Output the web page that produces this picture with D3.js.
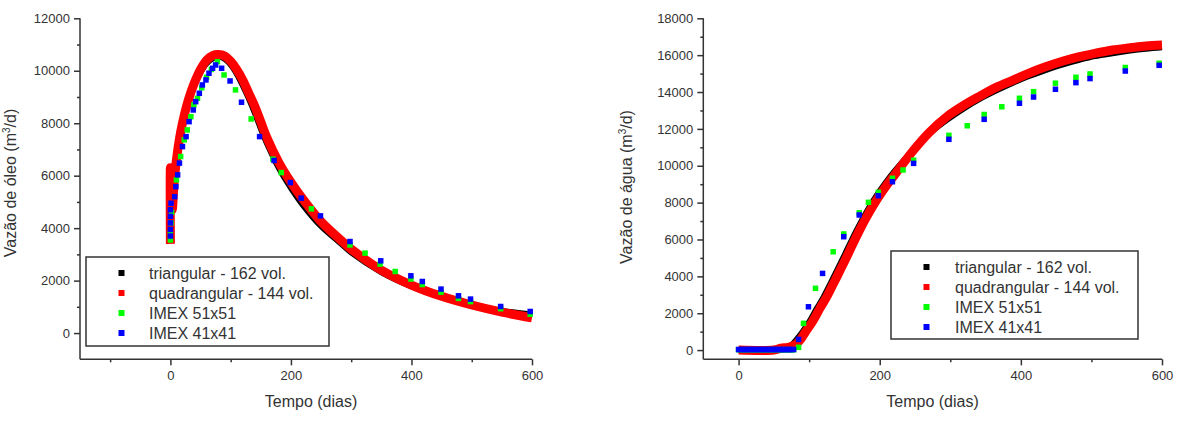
<!DOCTYPE html>
<html>
<head>
<meta charset="utf-8">
<script src="https://cdn.jsdelivr.net/npm/d3@7"></script>
<style>
  html, body { margin: 0; padding: 0; background: #fff; }
  svg { display: block; font-family: "Liberation Sans", Arial, sans-serif; }
</style>
</head>
<body>
<svg id="chart" width="1183" height="423"></svg>
<script>
// ---------------- DATA ----------------
const seriesNames = ["triangular - 162 vol.", "quadrangular - 144 vol.", "IMEX 51x51", "IMEX 41x41"];
const seriesColors = ["#000000", "#ff0000", "#00ff00", "#0000ff"];

// Left panel: oil rate (m3/d) vs time (days)
const oilTriangular = [[0,3450],[0,4900],[3,4600],[6,5550],[10,6450],[15,7250],[20,7850],[30,8800],[40,9450],[50,9900],[60,10250],[70,10450],[80,10520],[90,10430],[100,10200],[110,9850],[120,9400],[130,8900],[140,8350],[150,7750],[160,7200],[180,6250],[200,5500],[220,4850],[250,4050],[280,3450],[300,3050],[350,2300],[400,1760],[450,1350],[500,1060],[550,860],[600,730]];
const oilQuadrangular = [[0,3400],[0,6300],[3,4700],[6,5700],[10,6600],[15,7400],[20,8000],[30,8900],[40,9550],[50,10050],[60,10400],[70,10580],[80,10620],[90,10560],[100,10360],[110,10050],[120,9650],[130,9150],[140,8650],[150,8050],[160,7450],[180,6500],[200,5750],[220,5100],[250,4250],[280,3600],[300,3200],[350,2400],[400,1830],[450,1400],[500,1070],[550,800],[600,580]];
const oilImex51 = [[0,3550],[0,3800],[1,4200],[2,4600],[10,5840],[17,6730],[23,7365],[28,7745],[34,8250],[39,8700],[45,8950],[52,9350],[60,9750],[68,10050],[78,10347],[89,9840],[108,9270],[134,8163],[170,6630],[184,6118],[234,4735],[298,3360],[323,3048],[348,2630],[373,2347],[399,2060],[418,1850],[449,1560],[478,1320],[498,1200],[548,930],[597,720]];
const oilImex41 = [[0,3700],[0,3950],[0,4200],[0,4450],[0,4700],[1,4950],[7,5200],[9,5580],[12,6030],[15,6480],[20,7110],[26,7490],[31,8060],[38,8506],[42,8823],[48,9142],[53,9460],[59,9650],[64,9905],[70,10095],[75,10220],[85,10095],[99,9611],[118,8800],[148,7490],[172,6580],[199,5737],[217,5143],[249,4468],[298,3490],[349,2754],[399,2183],[418,1966],[449,1676],[478,1420],[498,1295],[548,1013],[597,823]];

// Right panel: water rate (m3/d) vs time (days)
const waterTriangular = [[0,0],[55,0],[65,100],[75,300],[83,650],[90,1000],[100,1570],[110,2250],[120,2900],[130,3650],[140,4420],[150,5200],[160,6000],[170,6750],[180,7450],[190,8100],[200,8680],[220,9700],[247,10850],[270,11700],[295,12450],[320,13100],[342,13600],[365,14050],[389,14480],[410,14820],[436,15180],[460,15480],[483,15720],[505,15920],[530,16080],[555,16220],[577,16320],[600,16400]];
const waterQuadrangular = [[0,0],[50,0],[60,100],[70,150],[80,280],[87,540],[95,1000],[106,1630],[115,2250],[125,2900],[135,3650],[144,4340],[155,5200],[163,5850],[172,6550],[181,7200],[190,7800],[200,8400],[210,8950],[220,9450],[247,10800],[270,11800],[295,12660],[320,13300],[342,13780],[365,14250],[389,14650],[410,15000],[436,15380],[460,15680],[483,15920],[505,16100],[530,16280],[555,16400],[577,16500],[600,16550]];
const waterImex51 = [[0,20],[3,20],[6,20],[9,20],[12,20],[15,20],[18,20],[21,20],[24,20],[27,20],[30,20],[33,20],[36,20],[39,20],[42,20],[45,20],[48,20],[51,20],[54,20],[57,20],[60,20],[63,20],[66,20],[69,20],[72,20],[75,20],[78,20],[85,150],[92,1450],[109,3350],[134,5335],[149,6300],[171,7450],[184,8015],[198,8560],[218,9320],[233,9770],[248,10300],[298,11650],[324,12170],[348,12780],[373,13200],[398,13660],[418,14020],[449,14480],[478,14800],[498,14980],[548,15330],[596,15560]];
const waterImex41 = [[0,30],[3,30],[6,30],[9,30],[12,30],[15,30],[18,30],[21,30],[24,30],[27,30],[30,30],[33,30],[36,30],[39,30],[42,30],[45,30],[48,30],[51,30],[54,30],[57,30],[60,30],[63,30],[66,30],[69,30],[72,30],[75,30],[78,30],[85,580],[99,2350],[119,4160],[149,6150],[171,7330],[198,8375],[218,9135],[248,10130],[298,11435],[348,12520],[398,13390],[418,13730],[449,14150],[478,14510],[498,14730],[548,15140],[596,15450]];

// Tick values
const oilXTicks = [0, 200, 400, 600];
const oilXMinor = [-100, 100, 300, 500];
const oilYTicks = [0, 2000, 4000, 6000, 8000, 10000, 12000];
const oilYMinor = [1000, 3000, 5000, 7000, 9000, 11000];
const waterXTicks = [0, 200, 400, 600];
const waterXMinor = [100, 300, 500];
const waterYTicks = [0, 2000, 4000, 6000, 8000, 10000, 12000, 14000, 16000, 18000];
const waterYMinor = [1000, 3000, 5000, 7000, 9000, 11000, 13000, 15000, 17000];

const xTitle = "Tempo (dias)";
const oilYTitle = ["Vazão de óleo (m", "3", "/d)"];
const waterYTitle = ["Vazão de água (m", "3", "/d)"];

// ---------------- DRAWING ----------------
const svg = d3.select("#chart");
const fmt = d3.format("d");
const axisColor = "#333";

function drawPanel(p) {
  const x = d3.scaleLinear().domain(p.xDomain).range(p.xRange);
  const y = d3.scaleLinear().domain(p.yDomain).range(p.yRange);
  const g = svg.append("g");

  const line = d3.line().x(d => x(d[0])).y(d => y(d[1])).curve(d3.curveCatmullRom.alpha(0.5));

  // curves
  g.append("path").datum(p.tri).attr("d", line)
    .attr("fill", "none").attr("stroke", seriesColors[0]).attr("stroke-width", 5).attr("stroke-linejoin", "round");
  g.append("path").datum(p.quad).attr("d", line)
    .attr("fill", "none").attr("stroke", seriesColors[1]).attr("stroke-width", 9).attr("stroke-linejoin", "round");

  // points
  const ms = 5.5;
  [[p.imex51, seriesColors[2]], [p.imex41, seriesColors[3]]].forEach(([data, col]) => {
    g.append("g").selectAll("rect").data(data).join("rect")
      .attr("x", d => x(d[0]) - ms / 2).attr("y", d => y(d[1]) - ms / 2)
      .attr("width", ms).attr("height", ms).attr("fill", col);
  });

  // axes
  const x0 = p.xRange[0], y0 = p.yRange[0];
  const ax = g.append("g").attr("transform", `translate(0,${y0})`)
    .call(d3.axisBottom(x).tickValues(p.xTicks).tickSize(6).tickPadding(5).tickFormat(fmt));
  const axm = g.append("g").attr("transform", `translate(0,${y0})`)
    .call(d3.axisBottom(x).tickValues(p.xMinor).tickSize(3).tickFormat(""));
  const ay = g.append("g").attr("transform", `translate(${x0},0)`)
    .call(d3.axisLeft(y).tickValues(p.yTicks).tickSize(6).tickPadding(4).tickFormat(fmt));
  const aym = g.append("g").attr("transform", `translate(${x0},0)`)
    .call(d3.axisLeft(y).tickValues(p.yMinor).tickSize(3).tickFormat(""));
  [axm, aym].forEach(a => a.select(".domain").remove());
  [ax, ay].forEach(a => a.select(".domain").attr("d", null));
  [ax, axm, ay, aym].forEach(a => {
    a.selectAll("line").attr("stroke", axisColor).attr("stroke-width", 1.5);
    a.selectAll("text").attr("fill", "#333").style("font-size", "13px").style("font-family", "'Liberation Sans', Arial, sans-serif");
  });
  // L-shaped axis lines
  g.append("line").attr("x1", x0).attr("x2", x0).attr("y1", p.yRange[1]).attr("y2", y0)
    .attr("stroke", axisColor).attr("stroke-width", 1.5);
  g.append("line").attr("x1", x0).attr("x2", p.xRange[1]).attr("y1", y0).attr("y2", y0)
    .attr("stroke", axisColor).attr("stroke-width", 1.5);

  // titles
  g.append("text").attr("x", p.xTitleX).attr("y", 407).attr("text-anchor", "middle")
    .attr("fill", "#333").style("font-size", "16px").text(xTitle);
  const yt = g.append("text").attr("transform", `translate(${p.yTitleX},${p.yTitleY}) rotate(-90)`)
    .attr("text-anchor", "middle").attr("fill", "#333").style("font-size", "16px");
  yt.append("tspan").text(p.yTitle[0]);
  yt.append("tspan").attr("dy", -6).style("font-size", "10px").text(p.yTitle[1]);
  yt.append("tspan").attr("dy", 6).text(p.yTitle[2]);

  // legend
  const L = p.legend;
  g.append("rect").attr("x", L.x).attr("y", L.y).attr("width", L.w).attr("height", L.h)
    .attr("fill", "#fff").attr("stroke", "#333").attr("stroke-width", 1.5);
  seriesNames.forEach((name, i) => {
    const cy = L.y + 16 + i * 20;
    g.append("rect").attr("x", L.mx - 3).attr("y", cy - 3).attr("width", 6).attr("height", 6)
      .attr("fill", seriesColors[i]);
    g.append("text").attr("x", L.tx).attr("y", cy).attr("dy", "0.35em")
      .attr("fill", "#333").style("font-size", "16px").text(name);
  });
}

drawPanel({
  xDomain: [-150, 600], xRange: [80, 532],
  yDomain: [-1000, 12000], yRange: [359.3, 18.3],
  xTicks: oilXTicks, xMinor: oilXMinor, yTicks: oilYTicks, yMinor: oilYMinor,
  tri: oilTriangular, quad: oilQuadrangular, imex51: oilImex51, imex41: oilImex41,
  xTitleX: 311, yTitleX: 15.5, yTitleY: 183, yTitle: oilYTitle,
  legend: { x: 86, y: 257, w: 243, h: 89, mx: 121.5, tx: 149 }
});

drawPanel({
  xDomain: [-50, 600], xRange: [703.3, 1162],
  yDomain: [-500, 18000], yRange: [359.3, 18.3],
  xTicks: waterXTicks, xMinor: waterXMinor, yTicks: waterYTicks, yMinor: waterYMinor,
  tri: waterTriangular, quad: waterQuadrangular, imex51: waterImex51, imex41: waterImex41,
  xTitleX: 932.5, yTitleX: 632, yTitleY: 187, yTitle: waterYTitle,
  legend: { x: 891, y: 251, w: 247, h: 88, mx: 926.5, tx: 955 }
});
</script>
</body>
</html>
